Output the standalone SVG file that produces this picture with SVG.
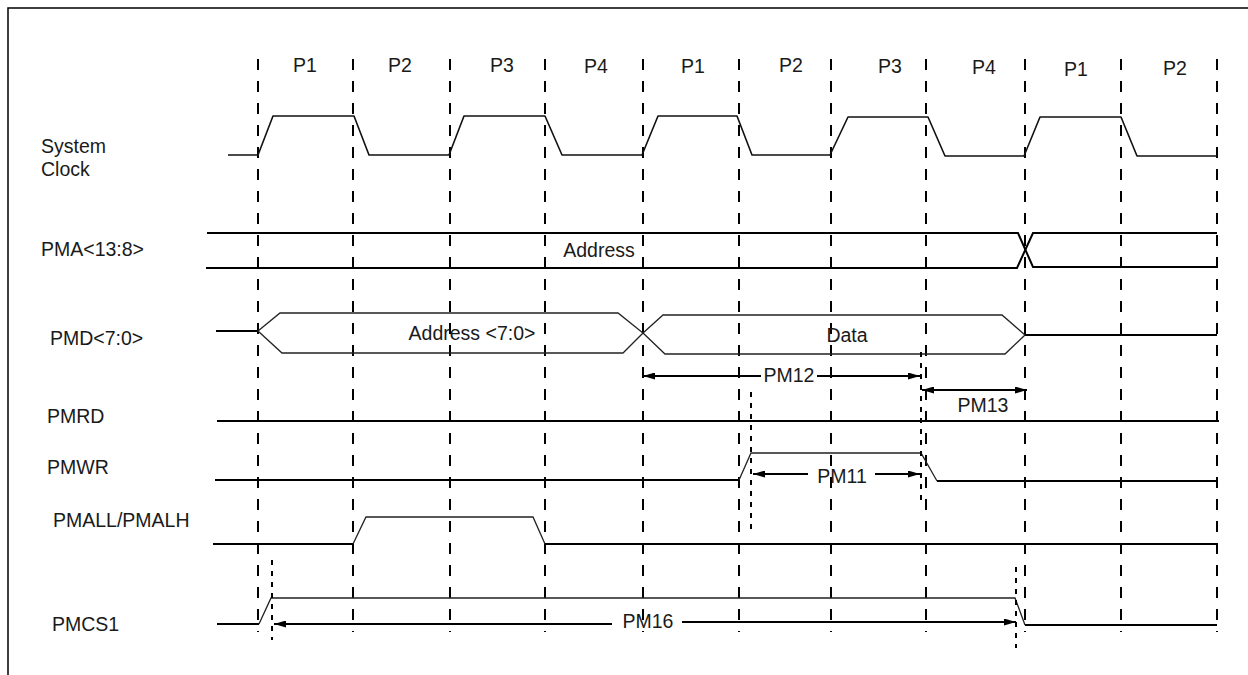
<svg xmlns="http://www.w3.org/2000/svg" width="1248" height="675" viewBox="0 0 1248 675">
<style>
.t{font-family:"Liberation Sans",Arial,sans-serif;font-size:19.5px;fill:#1a1a1a}
.m{text-anchor:middle}
.grid{stroke:#000;stroke-width:2;stroke-dasharray:11 11;fill:none}
.dot{stroke:#000;stroke-width:2;stroke-dasharray:5 6;fill:none}
.sig{stroke:#000;stroke-width:2;fill:none}
.thin{stroke:#222;stroke-width:1.3;fill:none}
.clk{stroke:#111;stroke-width:1.6;fill:none;stroke-linejoin:round}
.arr{stroke:#000;stroke-width:2;fill:none}
</style>
<defs>
<marker id="ah" viewBox="0 0 12 7" refX="12" refY="3.5" markerWidth="12" markerHeight="7" markerUnits="userSpaceOnUse" orient="auto-start-reverse">
<path d="M0,0 L12,3.5 L0,7 z" fill="#000"/>
</marker>
</defs>
<rect width="1248" height="675" fill="#fff"/>
<g id="frame" stroke="#000" stroke-width="1.5" fill="none">
<path d="M8,675 V8 H1248"/>
</g>
<g id="phase-grid">
<path class="grid" d="M258,59V632 M353,59V632 M450,59V632 M545,59V632 M643,59V632 M739,59V632 M831,59V632 M926,59V632 M1025,59V632 M1121,59V632 M1217,59V632"/>
<text class="t m" x="305" y="72">P1</text>
<text class="t m" x="400" y="72">P2</text>
<text class="t m" x="502" y="72">P3</text>
<text class="t m" x="596" y="73">P4</text>
<text class="t m" x="693" y="73">P1</text>
<text class="t m" x="791" y="72">P2</text>
<text class="t m" x="890" y="73">P3</text>
<text class="t m" x="984" y="74">P4</text>
<text class="t m" x="1076" y="76">P1</text>
<text class="t m" x="1175" y="75">P2</text>
</g>
<g id="system-clock">
<text class="t" x="41" y="152.5">System</text>
<text class="t" x="41" y="175.5">Clock</text>
<path class="clk" d="M228,155 H258 L273,116 H354 L369,155 H449 L464,116 H545 L562,155 H642 L658,116 H737 L752,155 H830 L848,117 H928 L945,156 H1024 L1040,117 H1121 L1137,156 H1217"/>
</g>
<g id="pma">
<text class="t" x="41" y="256">PMA&lt;13:8&gt;</text>
<path class="sig" d="M207,233 H1018 L1033,267 H1217"/>
<path class="sig" d="M206,268 H1017 L1033,233 H1217"/>
<text class="t m" x="599" y="257">Address</text>
</g>
<g id="pmd">
<text class="t" x="50" y="345">PMD&lt;7:0&gt;</text>
<path class="sig" d="M216,331 H258"/>
<path class="thin" d="M258,331 L280,313 H618 L643,333 L623,353 H282 Z"/>
<path class="thin" d="M643,333 L663,315 H1002 L1025,335 L1005,354 H665 Z"/>
<path class="sig" d="M1025,335 H1217"/>
<text class="t m" x="472" y="340">Address &lt;7:0&gt;</text>
<text class="t m" x="847" y="341.5">Data</text>
</g>
<g id="pmrd">
<text class="t" x="47" y="422.5">PMRD</text>
<path class="sig" d="M217,421 H1219"/>
</g>
<g id="pmwr">
<text class="t" x="47" y="474">PMWR</text>
<path class="sig" d="M215,480 H739"/>
<path class="thin" d="M739,480 L751,453 H921 L937,481"/>
<path class="sig" d="M937,481 H1217"/>
</g>
<g id="pmall">
<text class="t" x="53" y="527">PMALL/PMALH</text>
<path class="sig" d="M213,544 H353"/>
<path class="thin" d="M353,544 L366,517 H533 L545,544"/>
<path class="sig" d="M545,544 H1217"/>
</g>
<g id="pmcs1">
<text class="t" x="52" y="630.5">PMCS1</text>
<path class="sig" d="M217,624 H259"/>
<path class="thin" d="M259,624 L271,598 H1015 L1025,625"/>
<path class="sig" d="M1025,625 H1217"/>
</g>
<g id="connectors">
<path class="dot" d="M751,392 V535"/>
<path class="dot" d="M921,352 V500"/>
<path class="dot" d="M272,560 V640"/>
<path class="dot" d="M1016,567 V648"/>
<path class="arr" d="M643,376 H761" marker-start="url(#ah)"/>
<path class="arr" d="M817,376 H920" marker-end="url(#ah)"/>
<text class="t m" x="789" y="382">PM12</text>
<path class="arr" d="M922,390 H1027" marker-start="url(#ah)" marker-end="url(#ah)"/>
<text class="t m" x="983" y="412">PM13</text>
<path class="arr" d="M753,474 H808" marker-start="url(#ah)"/>
<path class="arr" d="M875,474 H920" marker-end="url(#ah)"/>
<text class="t m" x="842" y="483">PM11</text>
<path class="arr" d="M274,624 H612" marker-start="url(#ah)"/>
<path class="arr" d="M682,622 H1016" marker-end="url(#ah)"/>
<text class="t m" x="648" y="628">PM16</text>
</g>
</svg>
